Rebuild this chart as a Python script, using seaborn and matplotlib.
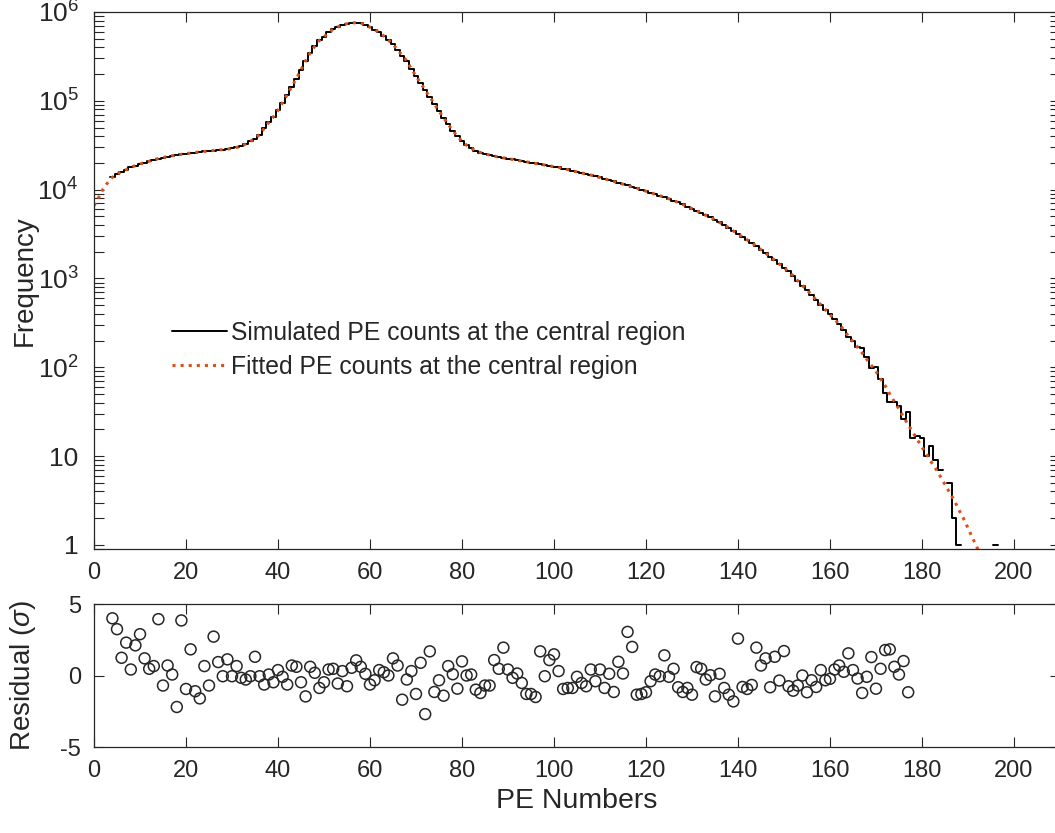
import numpy as np
import pandas as pd
import seaborn as sns
import matplotlib.pyplot as plt
from matplotlib.ticker import LogLocator, NullFormatter

# Fitted PE spectrum, one value per PE number (0 .. 193)
pe_fit = np.arange(0, 194)
fit_freq = [
    6610, 8130, 10230, 12020, 13800, 15140, 15850, 16790, 17780, 18620,
    19500, 20180, 20890, 21780, 22390, 23010, 23600, 24100, 24550, 25000,
    25410, 25820, 26180, 26610, 26920, 27290, 27540, 27860, 28180, 28580,
    29170, 29850, 30900, 32730, 35080, 37580, 41690, 48980, 57150, 66070,
    78520, 95500, 117500, 144500, 177800, 223900, 281800, 346700, 412100, 478600,
    524800, 588800, 638300, 680800, 716100, 738000, 753400, 758600, 746500, 717800,
    673000, 631000, 588800, 537000, 484200, 431500, 375800, 323600, 281800, 229100,
    190500, 158500, 131800, 110900, 91800, 76740, 64570, 54330, 46240, 39810,
    35080, 31620, 29170, 27540, 26180, 25230, 24550, 23820, 23230, 22750,
    22280, 21880, 21430, 20990, 20560, 20180, 19770, 19360, 18920, 18530,
    18110, 17780, 17300, 16870, 16370, 15890, 15450, 15030, 14590, 14130,
    13710, 13270, 12790, 12390, 11970, 11530, 11140, 10740, 10380, 10000,
    9620, 9250, 8910, 8550, 8220, 7890, 7530, 7190, 6820, 6460,
    6120, 5780, 5460, 5160, 4860, 4570, 4270, 3980, 3720, 3430,
    3160, 2930, 2720, 2510, 2320, 2110, 1930, 1760, 1600, 1450,
    1320, 1200, 1070, 944, 832, 741, 653, 575, 507, 447,
    394, 347, 305, 263, 224, 195, 168, 145, 123, 105,
    90, 74, 62, 50, 41, 34, 27.5, 22.6, 18.6, 15.3,
    12.6, 10.5, 8.6, 7.2, 5.9, 4.8, 3.9, 3.2, 2.5, 2.0,
    1.55, 1.2, 0.93, 0.72,
]

# Simulated histogram, bins 4 .. 196 (0 = empty bin)
hist_pe = np.arange(4, 197)
hist_counts = [
    13800, 15140, 15850, 16790, 17780, 18620, 19500, 20180, 20890, 21780,
    22390, 23010, 23600, 24100, 24550, 25000, 25410, 25820, 26180, 26610,
    26920, 27290, 27540, 27860, 28180, 28580, 29170, 29850, 30900, 32730,
    35080, 37580, 41690, 48980, 57150, 66070, 78520, 95500, 117500, 144500,
    177800, 223900, 281800, 346700, 412100, 478600, 524800, 588800, 638300, 680800,
    716100, 738000, 753400, 758600, 746500, 717800, 673000, 631000, 588800, 537000,
    484200, 431500, 375800, 323600, 281800, 229100, 190500, 158500, 131800, 110900,
    91800, 76740, 64570, 54330, 46240, 39810, 35080, 31620, 29170, 27540,
    26180, 25230, 24550, 23820, 23230, 22750, 22280, 21880, 21430, 20990,
    20560, 20180, 19770, 19360, 18920, 18530, 18110, 17780, 17300, 16870,
    16370, 15890, 15450, 15030, 14590, 14130, 13710, 13270, 12790, 12390,
    11970, 11530, 11140, 10740, 10380, 10000, 9620, 9250, 8910, 8550,
    8220, 7890, 7530, 7190, 6820, 6460, 6120, 5780, 5460, 5160,
    4860, 4570, 4270, 3980, 3720, 3430, 3160, 2930, 2720, 2510,
    2320, 2110, 1930, 1760, 1600, 1450, 1320, 1200, 1070, 944,
    832, 741, 653, 575, 507, 447, 394, 347, 305, 263,
    222, 200, 169, 166, 130, 99, 102, 74, 51, 41,
    41, 37, 26, 31, 16, 17, 16, 10, 13, 9,
    7, 0, 5, 2, 1, 0, 0, 0, 0, 0,
    0, 0, 1,
]

# Normalised residuals, PE numbers 4 .. 177
resid_pe = np.arange(4, 178)
resid_sigma = [
    4.0, 3.24, 1.24, 2.3, 0.42, 2.11, 2.89, 1.2, 0.47, 0.66,
    3.94, -0.70, 0.70, 0.07, -2.2, 3.85, -0.94, 1.83, -1.1, -1.6,
    0.66, -0.70, 2.72, 0.94, -0.05, 1.13, -0.05, 0.66, -0.16, -0.28,
    -0.05, 1.31, -0.05, -0.63, 0.07, -0.47, 0.38, -0.09, -0.63, 0.70,
    0.61, -0.47, -1.46, 0.61, 0.19, -0.87, -0.47, 0.42, 0.47, -0.56,
    0.31, -0.75, 0.54, 1.06, 0.61, 0.12, -0.63, -0.33, 0.38, 0.23,
    0.0, 1.2, 0.70, -1.69, -0.28, 0.31, -1.29, 0.89, -2.70, 1.69,
    -1.15, -0.33, -1.41, 0.66, 0.09, -0.92, 0.99, 0.0, 0.07, -0.99,
    -1.22, -0.70, -0.70, 1.08, 0.47, 1.95, 0.42, -0.16, 0.14, -0.52,
    -1.29, -1.29, -1.50, 1.69, -0.05, 1.08, 1.48, 0.31, -0.94, -0.87,
    -0.87, -0.09, -0.52, -0.75, 0.42, -0.40, 0.42, -0.87, 0.12, -1.15,
    0.96, 0.14, 3.05, 2.0, -1.34, -1.29, -1.17, -0.40, 0.07, -0.05,
    1.41, -0.09, 0.47, -0.82, -1.15, -0.87, -1.34, 0.59, 0.47, -0.28,
    0.02, -1.46, 0.12, -0.87, -1.34, -1.81, 2.58, -0.80, -0.94, -0.66,
    1.95, 0.70, 1.20, -0.82, 1.31, -0.35, 1.71, -0.75, -1.06, -0.70,
    0.0, -1.17, -0.33, -0.80, 0.38, -0.33, -0.23, 0.42, 0.70, 0.26,
    1.55, 0.38, -0.21, -1.22, -0.09, 1.29, -0.92, 0.47, 1.78, 1.83,
    0.61, 0.07, 1.01, -1.17,
]

sns.set_style('ticks')
plt.rcParams['font.family'] = ['Liberation Sans', 'DejaVu Sans']
plt.rcParams['mathtext.fontset'] = 'custom'
plt.rcParams['mathtext.rm'] = 'Liberation Sans'
plt.rcParams['mathtext.it'] = 'Liberation Sans:italic'
plt.rcParams['mathtext.default'] = 'regular'
plt.rcParams['axes.unicode_minus'] = False

ink = '#262626'
orange = '#D95319'

fig = plt.figure(figsize=(10.55, 8.33), dpi=100)
ax = fig.add_axes([0.0891, 0.3409, 0.9156, 0.6447])
axr = fig.add_axes([0.0891, 0.1032, 0.9156, 0.1717])

# histogram as stairs; empty bins break the line (log scale)
hist = pd.DataFrame({'pe': hist_pe, 'count': hist_counts})
hist = hist[hist['count'] > 0].copy()
hist['run'] = (hist['pe'].diff() != 1).cumsum()
parts = []
for run, g in hist.groupby('run'):
    close = g.iloc[[-1]].assign(pe=g['pe'].iloc[-1] + 1)
    parts.append(pd.concat([g, close]))
steps = pd.concat(parts)
steps['edge'] = steps['pe'] - 0.5

sns.lineplot(data=steps, x='edge', y='count', units='run', estimator=None,
             drawstyle='steps-post', color='black', lw=1.4, ax=ax)
hist_line = ax.lines[0]
sns.lineplot(x=pe_fit, y=fit_freq, color=orange, linestyle=':', lw=2.2, ax=ax)
fit_line = ax.lines[-1]

ax.set_yscale('log')
ax.set_xlim(0, 210)
ax.set_ylim(0.9, 1e6)
ax.set_xticks(np.arange(0, 201, 20))
ax.set_yticks([1, 10, 100, 1e3, 1e4, 1e5, 1e6],
              labels=['1', '10', '$10^2$', '$10^3$', '$10^4$', '$10^5$', '$10^6$'])
ax.yaxis.set_minor_locator(LogLocator(base=10, subs=np.arange(2, 10)))
ax.yaxis.set_minor_formatter(NullFormatter())
ax.set_xlabel('')
ax.set_ylabel('Frequency', fontsize=20, color=ink)
ax.yaxis.set_label_coords(-0.058, 0.5)

ax.legend([hist_line, fit_line],
          ['Simulated PE counts at the central region',
           'Fitted PE counts at the central region'],
          loc='upper left', bbox_to_anchor=(0.081, 0.425), frameon=False,
          fontsize=17.8, labelcolor=ink, handlelength=2.2, handletextpad=0.18,
          borderpad=0, borderaxespad=0, labelspacing=0.4)

# residual panel
sns.scatterplot(x=resid_pe, y=resid_sigma, marker='o', s=62,
                facecolor='none', edgecolor=ink, linewidth=1.1, ax=axr)
axr.set_xlim(0, 210)
axr.set_ylim(-5, 5)
axr.set_xticks(np.arange(0, 201, 20))
axr.set_yticks([-5, 0, 5])
axr.set_xlabel('PE Numbers', fontsize=20.5, color=ink)
axr.set_ylabel(r'Residual ($\mathit{\sigma}$)', fontsize=20, color=ink)
axr.yaxis.set_label_coords(-0.058, 0.5)

for a in (ax, axr):
    a.tick_params(which='both', direction='in', top=True, right=True,
                  length=7.5, width=0.8, colors=ink, labelsize=17, pad=9.5)
    for sp in a.spines.values():
        sp.set_visible(True)
        sp.set_color(ink)
        sp.set_linewidth(0.9)
ax.tick_params(axis='y', labelsize=19, pad=11)

fig.savefig('out.png', dpi=100)
